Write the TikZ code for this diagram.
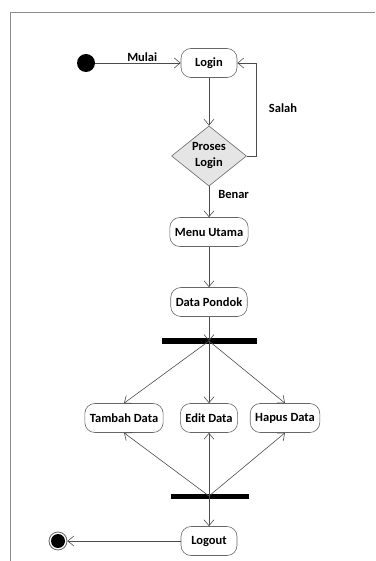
\documentclass[tikz,border=0pt]{standalone}
\usepackage{fontspec}
\setmainfont{Carlito}
\usetikzlibrary{arrows.meta,shapes.geometric}
\begin{document}
\begin{tikzpicture}[x=1pt,y=-1pt,
  every node/.style={font=\bfseries\fontsize{12.5}{14}\selectfont},
  act/.style={draw=black!60, rounded corners=10pt, minimum height=29pt, inner xsep=5pt, line width=0.6pt},
  dec/.style={draw=black!60, fill=black!10, diamond, minimum width=75pt, minimum height=60pt, inner sep=0pt, line width=0.6pt, align=center, font=\bfseries\fontsize{12.5}{16}\selectfont},
  bar/.style={fill=black, minimum height=6pt, inner sep=0pt},
  flow/.style={draw=black!70, line width=0.6pt, -{Straight Barb[length=6pt,width=10pt]}},
  lbl/.style={inner sep=1pt}]
\useasboundingbox (0,0) rectangle (375,561);
\draw[black!45, line width=0.8pt] (375,12) -- (10,12) -- (10,561);
\node[circle, fill=black, minimum size=18pt, inner sep=0pt] (start) at (86,63) {};
\node[act, minimum width=56pt] (login) at (209,63) {Login};
\node[dec] (proses) at (209,156) {Proses\\Login};
\node[act, minimum width=74pt] (menu) at (209,232) {Menu Utama};
\node[act, minimum width=73pt] (data) at (209,302) {Data Pondok};
\node[bar, minimum width=95pt] (fork) at (209.5,341) {};
\node[act, minimum width=76pt] (tambah) at (124,418) {Tambah Data};
\node[act, minimum width=56pt] (edit) at (209,418) {Edit Data};
\node[act, minimum width=66pt] (hapus) at (285,418) {Hapus Data};
\node[bar, minimum width=78pt, minimum height=5pt] (join) at (210,496) {};
\node[act, minimum width=56pt] (logout) at (209,541) {Logout};
\node[circle, draw=black!60, line width=0.8pt, minimum size=18pt, inner sep=0pt] (end) at (58,541) {};
\node[circle, fill=black, minimum size=14pt, inner sep=0pt] at (end) {};
\coordinate (loopc) at (256,63);
\draw[flow] (start) -- node[lbl, above, pos=0.55] {Mulai} (login);
\draw[flow] (login) -- (proses);
\draw[flow] (proses.east) -| (loopc) -- (login.east);
\node[lbl] (salah) at (283,108) {Salah};
\draw[flow] (proses) -- node[lbl, right, xshift=8pt, pos=0.25] {Benar} (menu);
\draw[flow] (menu) -- (data);
\draw[flow] (data) -- (fork.center -| data);
\draw[flow] (fork.center -| data) -- (tambah.north);
\draw[flow] (fork.center -| data) -- (edit.north);
\draw[flow] (fork.center -| data) -- (hapus.north);
\draw[flow] (join.center -| edit) -- (tambah.south);
\draw[flow] (join.center -| edit) -- (edit.south);
\draw[flow] (join.center -| edit) -- (hapus.south);
\draw[flow] (join.center -| edit) -- (logout);
\draw[flow] (logout) -- (end);
\end{tikzpicture}
\end{document}
